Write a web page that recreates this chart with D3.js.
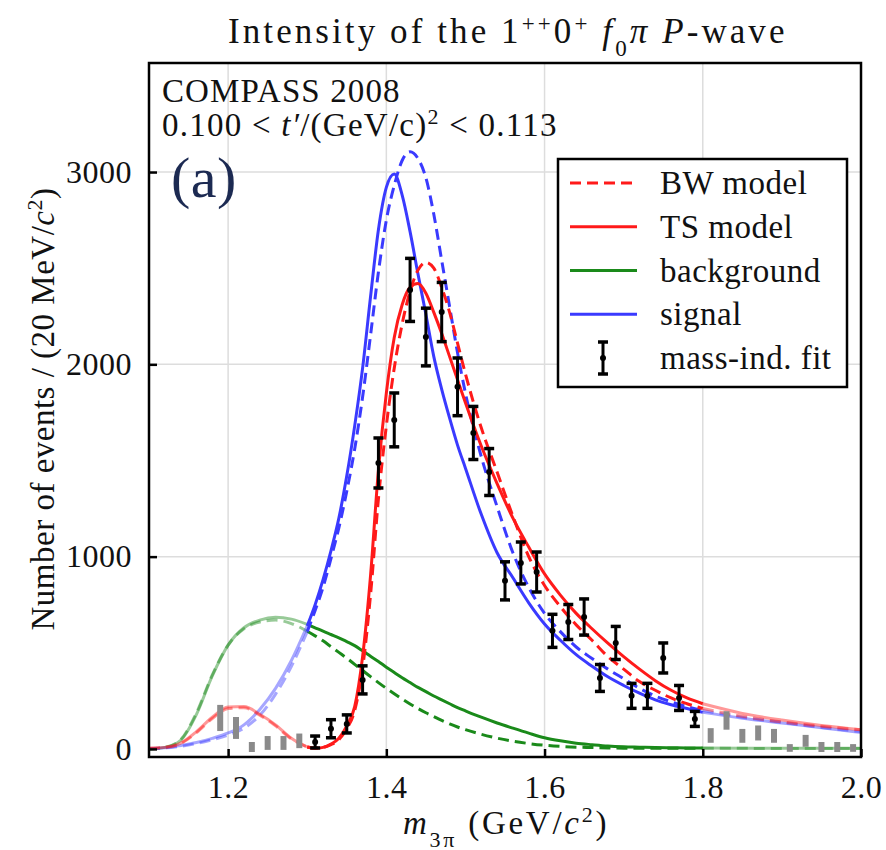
<!DOCTYPE html>
<html>
<head>
<meta charset="utf-8">
<script src="https://cdn.jsdelivr.net/npm/d3@7"></script>
<style>
  body { margin: 0; background: #fff; }
  text { font-family: "Liberation Serif", "DejaVu Serif", "Noto Serif", "Nimbus Roman", "FreeSerif", "Times New Roman", Times, Georgia, serif; fill: #111; letter-spacing: 0.5px; }
</style>
</head>
<body>
<div id="chart"></div>
<script>
// mass-independent fit points (fit range)
var fitMass = [1.31,1.33,1.35,1.37,1.39,1.41,1.43,1.45,1.47,1.49,1.51,1.53,1.55,1.57,1.59,1.61,1.63,1.65,1.67,1.69,1.71,1.73,1.75,1.77,1.79];
var fitValue = [36,105,130,359,1487,1711,2387,2142,2272,1883,1643,1440,874,967,920,614,660,686,369,551,276,276,473,265,156];
var fitError = [31,47,47,73,130,140,164,150,154,150,138,122,99,109,104,86,91,94,70,86,65,65,78,65,39];

// points outside the fit range (grey)
var outMass = [1.19,1.21,1.23,1.25,1.27,1.29,1.81,1.83,1.85,1.87,1.89,1.91,1.93,1.95,1.97,1.99];
var outValue = [161,109,10,31,31,42,70,148,68,83,68,5,42,10,10,5];
var outError = [68,57,26,36,36,38,38,48,36,39,36,20,31,26,26,20];

// model curves, common mass grid
var curveMass = [1.10,1.12,1.14,1.16,1.18,1.20,1.22,1.24,1.26,1.28,
  1.30,1.31,1.32,1.33,1.34,1.35,1.36,1.37,1.38,1.39,1.40,1.41,1.42,1.43,1.44,1.45,1.46,1.47,1.48,1.49,1.50,
  1.52,1.54,1.56,1.58,1.60,1.62,1.64,1.66,1.68,1.70,1.72,1.74,1.76,1.78,1.80,
  1.85,1.90,1.95,2.00];
var tsTotal = [3,8,30,90,165,218,220,180,125,55,
  10,3,8,25,55,120,220,480,900,1450,1850,2140,2310,2400,2420,2370,2270,2160,2040,1920,1800,
  1575,1380,1200,1050,910,800,705,625,550,480,415,355,305,265,235,
  185,150,122,100];
var bwTotal = [3,8,28,85,158,210,214,175,120,52,
  10,4,8,22,48,105,200,420,800,1300,1680,1980,2210,2380,2490,2530,2500,2400,2270,2110,1950,
  1670,1440,1210,1000,850,740,645,565,480,415,350,305,265,235,210,
  170,140,118,100];
var tsSignal = [2,6,18,33,55,83,125,205,315,460,
  640,750,880,1030,1200,1420,1680,1980,2350,2700,2920,2990,2880,2690,2470,2260,2040,1870,1720,1580,1460,
  1220,1020,890,760,650,565,490,430,375,330,290,255,230,210,190,
  160,135,110,85];
var bwSignal = [2,5,14,28,48,72,108,175,285,430,
  610,720,840,990,1150,1340,1560,1830,2150,2480,2750,2930,3060,3105,3070,2970,2780,2540,2300,2060,1850,
  1520,1260,1020,840,705,610,530,470,415,365,315,275,245,220,200,
  165,138,112,90];
var tsBackground = [0,8,45,180,380,540,630,670,685,675,
  648,630,612,595,578,558,537,510,482,455,425,398,370,345,320,298,275,255,235,215,198,
  165,135,108,82,58,42,30,22,15,11,9,7,6,5,5,
  4,4,3,3];
var bwBackground = [0,8,48,188,385,540,625,660,670,652,
  612,588,562,532,502,472,440,408,376,345,315,287,260,234,210,188,168,148,130,114,100,
  76,56,40,28,19,13,9,7,5,4,4,3,3,3,3,
  3,2,2,2];

var xTicks = [1.2, 1.4, 1.6, 1.8, 2.0];
var yTicks = [0, 1000, 2000, 3000];
var legendLabels = ["BW model", "TS model", "background", "signal", "mass-ind. fit"];

var fitLo = 1.30, fitHi = 1.80;

var svg = d3.select("#chart")
    .append("svg")
    .attr("width", 886)
    .attr("height", 850);

var x = d3.scaleLinear().domain([1.1, 2.0]).range([149, 861]),
    y = d3.scaleLinear().domain([-42, 3567]).range([757, 63]);

// grid
svg.append("g").selectAll("line")
    .data(xTicks.filter(function(d) { return d < 2.0; }))
    .enter().append("line")
      .attr("x1", function(d) { return x(d); })
      .attr("x2", function(d) { return x(d); })
      .attr("y1", 63).attr("y2", 757)
      .attr("stroke", "#ddd").attr("stroke-width", 1.5);
svg.append("g").selectAll("line")
    .data(yTicks.filter(function(d) { return d > 0; }))
    .enter().append("line")
      .attr("x1", 149).attr("x2", 861)
      .attr("y1", function(d) { return y(d); })
      .attr("y2", function(d) { return y(d); })
      .attr("stroke", "#ddd").attr("stroke-width", 1.5);

// curves
var line = d3.line()
    .x(function(d) { return x(d.m); })
    .y(function(d) { return y(d.v); })
    .curve(d3.curveMonotoneX);

function series(vals) {
  return curveMass.map(function(m, i) { return {m: m, v: vals[i]}; });
}

var curves = [
  {vals: bwBackground, color: "#1a8a1a", dash: "11,6"},
  {vals: tsBackground, color: "#1a8a1a", dash: null},
  {vals: bwSignal, color: "#3a3aff", dash: "11,6"},
  {vals: tsSignal, color: "#3a3aff", dash: null},
  {vals: bwTotal, color: "#ff1a1a", dash: "11,6"},
  {vals: tsTotal, color: "#ff1a1a", dash: null}
];

var gc = svg.append("g");
curves.forEach(function(c) {
  var s = series(c.vals);
  var parts = [
    {pts: s.filter(function(d) { return d.m <= fitLo; }), op: 0.45},
    {pts: s.filter(function(d) { return d.m >= fitLo && d.m <= fitHi; }), op: 1},
    {pts: s.filter(function(d) { return d.m >= fitHi; }), op: 0.45}
  ];
  parts.forEach(function(p) {
    gc.append("path")
      .attr("d", line(p.pts))
      .attr("fill", "none")
      .attr("stroke", c.color)
      .attr("stroke-width", 3)
      .attr("stroke-opacity", p.op)
      .attr("stroke-dasharray", c.dash);
  });
});

// grey points outside fit range
var outData = outMass.map(function(m, i) { return {m: m, v: outValue[i], e: outError[i]}; });
svg.append("g").selectAll("line")
    .data(outData)
    .enter().append("line")
      .attr("x1", function(d) { return x(d.m); })
      .attr("x2", function(d) { return x(d.m); })
      .attr("y1", function(d) { return y(d.v - d.e); })
      .attr("y2", function(d) { return y(d.v + d.e); })
      .attr("stroke", "#8a8a8a")
      .attr("stroke-width", 6);

// fit points
var fitData = fitMass.map(function(m, i) { return {m: m, v: fitValue[i], e: fitError[i]}; });
var gp = svg.append("g").selectAll("g")
    .data(fitData)
    .enter().append("g");
gp.append("line")
    .attr("x1", function(d) { return x(d.m); })
    .attr("x2", function(d) { return x(d.m); })
    .attr("y1", function(d) { return y(d.v - d.e); })
    .attr("y2", function(d) { return y(d.v + d.e); })
    .attr("stroke", "#000").attr("stroke-width", 3);
[-1, 1].forEach(function(sgn) {
  gp.append("line")
    .attr("x1", function(d) { return x(d.m) - 5; })
    .attr("x2", function(d) { return x(d.m) + 5; })
    .attr("y1", function(d) { return y(d.v + sgn * d.e); })
    .attr("y2", function(d) { return y(d.v + sgn * d.e); })
    .attr("stroke", "#000").attr("stroke-width", 3.5);
});
gp.append("circle")
    .attr("cx", function(d) { return x(d.m); })
    .attr("cy", function(d) { return y(d.v); })
    .attr("r", 3).attr("fill", "#000");

// axes
var xAxis = svg.append("g")
    .attr("transform", "translate(0,757)")
    .call(d3.axisBottom(x).tickValues(xTicks).tickSizeInner(-8).tickSizeOuter(0).tickPadding(18)
      .tickFormat(d3.format(".1f")));
var yAxis = svg.append("g")
    .attr("transform", "translate(149,0)")
    .call(d3.axisLeft(y).tickValues(yTicks).tickSizeInner(-8).tickSizeOuter(0).tickPadding(17)
      .tickFormat(d3.format("d")));
[xAxis, yAxis].forEach(function(a) {
  a.select(".domain").remove();
  a.selectAll(".tick line").attr("stroke", "#000").attr("stroke-width", 2.5);
  a.selectAll(".tick text")
    .attr("font-family", null)
    .style("font-size", "32px")
    .attr("fill", "#111");
});

// frame
svg.append("rect")
    .attr("x", 149).attr("y", 63)
    .attr("width", 712).attr("height", 694)
    .attr("fill", "none").attr("stroke", "#000").attr("stroke-width", 2.5);

// title
var title = svg.append("text")
    .attr("x", 228).attr("y", 43)
    .attr("textLength", 557)
    .attr("lengthAdjust", "spacing")
    .style("font-size", "35px");
title.append("tspan").text("Intensity of the 1");
title.append("tspan").attr("baseline-shift", "super").style("font-size", "23px").text("++");
title.append("tspan").text("0");
title.append("tspan").attr("baseline-shift", "super").style("font-size", "23px").text("+");
title.append("tspan").text(" ");
title.append("tspan").style("font-style", "italic").text("f");
title.append("tspan").attr("baseline-shift", "sub").style("font-size", "23px").text("0");
title.append("tspan").style("font-style", "italic").text("π P");
title.append("tspan").text("-wave");

// axis labels
var xl = svg.append("text")
    .attr("x", 403).attr("y", 834)
    .attr("textLength", 204)
    .attr("lengthAdjust", "spacing")
    .style("font-size", "33px");
xl.append("tspan").style("font-style", "italic").text("m");
xl.append("tspan").attr("baseline-shift", "sub").style("font-size", "22px").text("3π");
xl.append("tspan").text(" (GeV/");
xl.append("tspan").style("font-style", "italic").text("c");
xl.append("tspan").attr("baseline-shift", "super").style("font-size", "22px").text("2");
xl.append("tspan").text(")");

var yl = svg.append("text")
    .attr("transform", "translate(54,409) rotate(-90)")
    .attr("text-anchor", "middle")
    .style("font-size", "33px");
yl.append("tspan").text("Number of events / (20 MeV/");
yl.append("tspan").style("font-style", "italic").text("c");
yl.append("tspan").attr("baseline-shift", "super").style("font-size", "22px").text("2");
yl.append("tspan").text(")");

// annotations
svg.append("text")
    .attr("x", 162).attr("y", 102)
    .attr("textLength", 238)
    .attr("lengthAdjust", "spacing")
    .style("font-size", "33px")
    .text("COMPASS 2008");
var cut = svg.append("text")
    .attr("x", 162).attr("y", 136)
    .attr("textLength", 395)
    .attr("lengthAdjust", "spacing")
    .style("font-size", "33px");
cut.append("tspan").text("0.100 < ");
cut.append("tspan").style("font-style", "italic").text("t′");
cut.append("tspan").text("/(GeV/c)");
cut.append("tspan").attr("baseline-shift", "super").style("font-size", "22px").text("2");
cut.append("tspan").text(" < 0.113");

svg.append("text")
    .attr("x", 171).attr("y", 197)
    .style("font-size", "58px")
    .style("fill", "#1c2a52")
    .text("(a)");

// legend
var lg = svg.append("g");
lg.append("rect")
    .attr("x", 558).attr("y", 159)
    .attr("width", 289).attr("height", 228)
    .attr("fill", "#fff").attr("stroke", "#000").attr("stroke-width", 2.5);
var legendStyle = [
  {color: "#ff1a1a", dash: "11,6"},
  {color: "#ff1a1a", dash: null},
  {color: "#1a8a1a", dash: null},
  {color: "#3a3aff", dash: null},
  {color: null, dash: null}
];
var rowY = d3.scalePoint().domain(legendLabels).range([183, 358]);
legendLabels.forEach(function(lab, i) {
  var yy = rowY(lab);
  var st = legendStyle[i];
  if (st.color) {
    lg.append("line")
      .attr("x1", 570).attr("x2", 637)
      .attr("y1", yy).attr("y2", yy)
      .attr("stroke", st.color).attr("stroke-width", 3)
      .attr("stroke-dasharray", st.dash);
  } else {
    lg.append("line").attr("x1", 603).attr("x2", 603).attr("y1", yy - 16).attr("y2", yy + 16)
      .attr("stroke", "#000").attr("stroke-width", 3);
    [-16, 16].forEach(function(o) {
      lg.append("line").attr("x1", 598).attr("x2", 608).attr("y1", yy + o).attr("y2", yy + o)
        .attr("stroke", "#000").attr("stroke-width", 3.5);
    });
    lg.append("circle").attr("cx", 603).attr("cy", yy).attr("r", 3).attr("fill", "#000");
  }
  lg.append("text")
    .attr("x", 660).attr("y", yy + 11)
    .style("font-size", "33px")
    .text(lab);
});
</script>
</body>
</html>
